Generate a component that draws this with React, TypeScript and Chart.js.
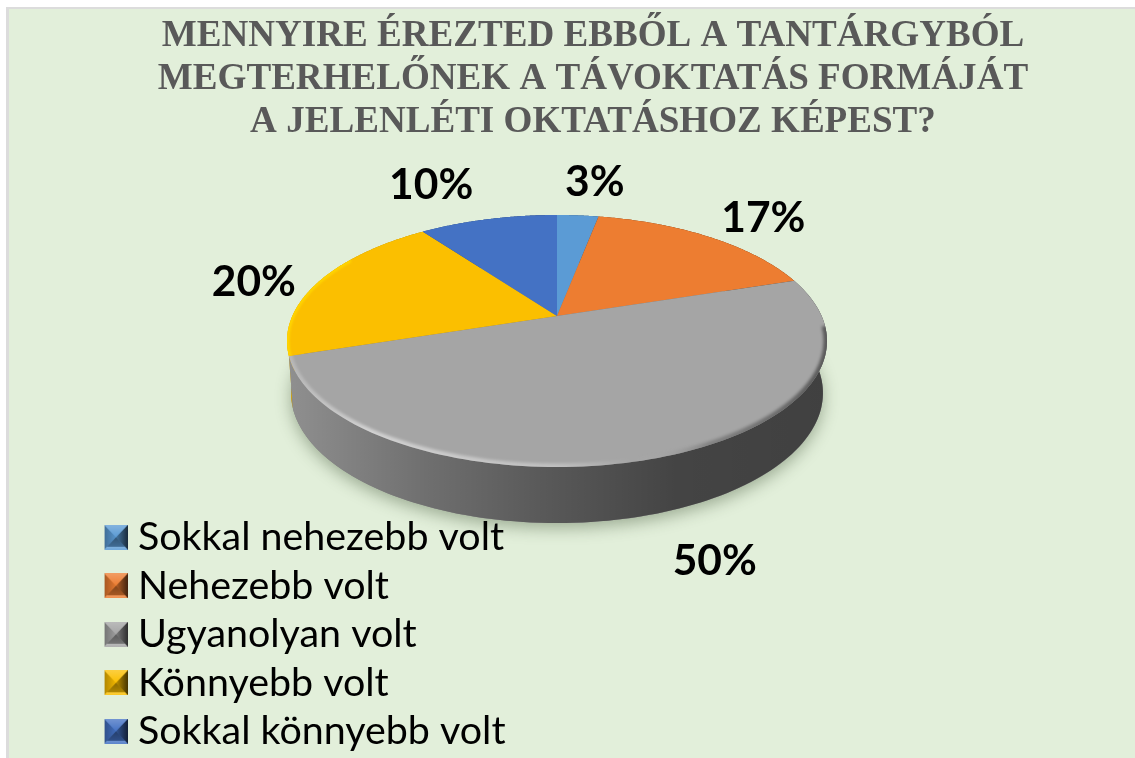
import React, { useEffect, useRef } from "react";
import { Chart, PieController, ArcElement, Legend, Title } from "chart.js";

Chart.register(PieController, ArcElement, Legend, Title);

const categories = ["Sokkal nehezebb volt", "Nehezebb volt", "Ugyanolyan volt", "Könnyebb volt", "Sokkal könnyebb volt"];
const percentages = [3, 17, 50, 20, 10];
const sliceColors = ["#5B9BD5", "#ED7D31", "#A5A5A5", "#FBBF00", "#4472C4"];
const titleLines = [
  "MENNYIRE ÉREZTED EBBŐL A TANTÁRGYBÓL",
  "MEGTERHELŐNEK A TÁVOKTATÁS FORMÁJÁT",
  "A JELENLÉTI OKTATÁSHOZ KÉPEST?",
];

const W = 1135;
const H = 758;
const TILT = 126 / 270;
const APEX = 0.198;
const DEPTH = 52;
const labelNudges = [[17, -33], [54, -19], [57, 103], [-66, 1], [-57, -34]];

function project(a: number, cx: number, cy: number, rx: number, ry: number) {
  const u = Math.cos(a);
  const v = -Math.sin(a);
  const d = 1 + APEX * v;
  return {
    x: cx + (rx * u * Math.sqrt(1 - APEX * APEX)) / d,
    y: cy - (ry * (v + APEX)) / d,
  };
}

function bevelSwatch(color: string) {
  const c = document.createElement("canvas");
  c.width = 24;
  c.height = 25;
  const g = c.getContext("2d")!;
  const tri = (pts: number[][], fill: string | CanvasGradient) => {
    g.beginPath();
    g.moveTo(pts[0][0], pts[0][1]);
    pts.slice(1).forEach((p) => g.lineTo(p[0], p[1]));
    g.closePath();
    g.fillStyle = fill;
    g.fill();
  };
  g.fillStyle = color;
  g.fillRect(0, 0, 24, 25);
  const mx = 12, my = 12.5;
  const top = g.createLinearGradient(0, 0, 0, my);
  top.addColorStop(0, "rgba(255,255,255,0.25)");
  top.addColorStop(1, "rgba(255,255,255,0)");
  tri([[0, 0], [24, 0], [mx, my]], top);
  const left = g.createLinearGradient(0, 0, mx, 0);
  left.addColorStop(0, "rgba(0,0,0,0.3)");
  left.addColorStop(1, "rgba(0,0,0,0.05)");
  tri([[0, 0], [mx, my], [0, 25]], left);
  const right = g.createLinearGradient(mx, 0, 24, 0);
  right.addColorStop(0, "rgba(0,0,0,0.25)");
  right.addColorStop(1, "rgba(0,0,0,0.72)");
  tri([[24, 0], [mx, my], [24, 25]], right);
  const bottom = g.createLinearGradient(0, my, 0, 25);
  bottom.addColorStop(0, "rgba(0,0,0,0.45)");
  bottom.addColorStop(0.75, "rgba(0,0,0,0.3)");
  bottom.addColorStop(0.78, "rgba(255,255,255,0.22)");
  bottom.addColorStop(1, "rgba(255,255,255,0.12)");
  tri([[0, 25], [24, 25], [mx, my]], bottom);
  return c;
}

const piePlugin = {
  id: "tiltedPie",
  afterLayout(chart: any) {
    const t = chart.titleBlock;
    t.left = 62;
    t.right = 1124;
    t.top = 15;
    const l = chart.legend;
    l.left = 104.6;
    l.top = 508.5;
    l.right = l.left + l.width;
    l.bottom = l.top + l.height;
  },
  beforeDraw(chart: any) {
    const ctx = chart.ctx;
    ctx.save();
    ctx.fillStyle = "#ffffff";
    ctx.fillRect(0, 0, W, H);
    ctx.fillStyle = "#dcdcdc";
    ctx.fillRect(6, 7, W - 6, H - 7);
    ctx.fillStyle = "#E2EFDA";
    ctx.fillRect(9, 9, W - 9, H - 9);

    const arcs = chart.getDatasetMeta(0).data;
    const cx = arcs[0].x;
    const cy = arcs[0].y;
    const rx = arcs[0].outerRadius;
    const ry = rx * TILT;
    const brx = rx * 0.985;
    const bry = ry * 1.032;
    const bcy = cy + DEPTH;

    // soft ground shadow
    ctx.save();
    ctx.shadowColor = "rgba(50,70,40,0.4)";
    ctx.shadowBlur = 16;
    ctx.shadowOffsetY = 5;
    ctx.fillStyle = "#777";
    ctx.beginPath();
    ctx.ellipse(cx, bcy, brx, bry, 0, 0, Math.PI * 2);
    ctx.fill();
    ctx.restore();

    const wallShade = ctx.createLinearGradient(cx - rx, 0, cx + rx, 0);
    wallShade.addColorStop(0, "rgba(0,0,0,0.13)");
    wallShade.addColorStop(0.26, "rgba(0,0,0,0.33)");
    wallShade.addColorStop(0.47, "rgba(0,0,0,0.46)");
    wallShade.addColorStop(0.72, "rgba(0,0,0,0.59)");
    wallShade.addColorStop(1, "rgba(0,0,0,0.61)");

    const drawOrder = [0, 4, 1, 3, 2];
    drawOrder.forEach((i) => {
      const arc = arcs[i];
      const steps = 120;
      const upper: any[] = [];
      const lower: any[] = [];
      for (let s = 0; s <= steps; s++) {
        const a = arc.startAngle + ((arc.endAngle - arc.startAngle) * s) / steps;
        upper.push(project(a, cx, cy, rx, ry));
        lower.push(project(a, cx, bcy, brx, bry));
      }
      ctx.beginPath();
      upper.forEach((p, k) => (k ? ctx.lineTo(p.x, p.y) : ctx.moveTo(p.x, p.y)));
      lower.reverse().forEach((p) => ctx.lineTo(p.x, p.y));
      ctx.closePath();
      ctx.fillStyle = sliceColors[i];
      ctx.fill();
      ctx.fillStyle = wallShade;
      ctx.fill();
    });

    // top face
    const facePath = (arc: any) => {
      const apex = { x: cx, y: cy - ry * APEX };
      ctx.beginPath();
      ctx.moveTo(apex.x, apex.y);
      const steps = 120;
      for (let s = 0; s <= steps; s++) {
        const a = arc.startAngle + ((arc.endAngle - arc.startAngle) * s) / steps;
        const p = project(a, cx, cy, rx, ry);
        ctx.lineTo(p.x, p.y);
      }
      ctx.closePath();
    };
    arcs.forEach((arc: any, i: number) => {
      facePath(arc);
      ctx.fillStyle = sliceColors[i];
      ctx.fill();
    });

    // bevel along the front rim of the top face
    ctx.save();
    facePath(arcs[2]);
    ctx.clip();
    const rim = ctx.createLinearGradient(cx - rx, 0, cx + rx, 0);
    rim.addColorStop(0, "rgba(255,255,255,0.2)");
    rim.addColorStop(0.15, "rgba(255,255,255,0.5)");
    rim.addColorStop(0.5, "rgba(255,255,255,0.3)");
    rim.addColorStop(0.64, "rgba(255,255,255,0)");
    rim.addColorStop(0.78, "rgba(0,0,0,0.2)");
    rim.addColorStop(1, "rgba(0,0,0,0.45)");
    ctx.filter = "blur(1.5px)";
    ctx.strokeStyle = rim;
    ctx.lineWidth = 7;
    ctx.beginPath();
    ctx.ellipse(cx, cy, rx, ry, 0, -0.12, Math.PI + 0.2);
    ctx.stroke();
    ctx.restore();

    // yellow rim highlight
    ctx.save();
    facePath(arcs[3]);
    ctx.clip();
    ctx.strokeStyle = "#FFD400";
    ctx.lineWidth = 5;
    ctx.filter = "blur(1px)";
    ctx.beginPath();
    ctx.ellipse(cx, cy, rx, ry, 0, Math.PI - 0.2, Math.PI + 0.7);
    ctx.stroke();
    ctx.restore();

    ctx.restore();
  },
  beforeDatasetsDraw() {
    return false;
  },
  afterDraw(chart: any) {
    const ctx = chart.ctx;
    const arcs = chart.getDatasetMeta(0).data;
    ctx.save();
    ctx.font = 'bold 42.5px Lato, "Noto Sans", sans-serif';
    ctx.fillStyle = "#000000";
    ctx.textAlign = "center";
    ctx.textBaseline = "middle";
    arcs.forEach((arc: any, i: number) => {
      const mid = (arc.startAngle + arc.endAngle) / 2;
      const p = project(mid, arc.x, arc.y, arc.outerRadius, arc.outerRadius * TILT);
      ctx.fillText(`${percentages[i]}%`, p.x + labelNudges[i][0], p.y + labelNudges[i][1]);
    });
    ctx.restore();
  },
};

export default function App() {
  const ref = useRef<HTMLCanvasElement>(null);
  useEffect(() => {
    const swatches = sliceColors.map(bevelSwatch);
    const chart = new Chart(ref.current!, {
      type: "pie",
      data: {
        labels: categories,
        datasets: [{ data: percentages, backgroundColor: sliceColors, borderWidth: 0 }],
      },
      plugins: [piePlugin],
      options: {
        responsive: false,
        animation: false,
        radius: 270,
        layout: { padding: { left: 287, right: 308, top: 9, bottom: 214 } },
        plugins: {
          tooltip: { enabled: false },
          title: {
            display: true,
            text: titleLines,
            color: "#595959",
            font: { family: '"Liberation Serif", serif', size: 37.1, weight: "bold", lineHeight: 43 / 37.1 },
            padding: { top: 0, bottom: 0 },
          },
          legend: {
            position: "chartArea",
            align: "start",
            labels: {
              usePointStyle: true,
              pointStyleWidth: 4.6,
              color: "#5F5F5F",
              padding: 9.1,
              font: { family: 'Lato, "Noto Sans", sans-serif', size: 39.4 },
              generateLabels: () =>
                categories.map((text, i) => ({
                  text,
                  fillStyle: sliceColors[i],
                  strokeStyle: sliceColors[i],
                  lineWidth: 0,
                  pointStyle: swatches[i],
                  hidden: false,
                  index: i,
                })),
            },
          },
        },
      },
    } as any);
    return () => chart.destroy();
  }, []);
  return (
    <div style={{ position: "fixed", left: 0, top: 0, width: W, height: H, overflow: "hidden" }}>
      <canvas ref={ref} width={W} height={H} style={{ display: "block" }} />
    </div>
  );
}
